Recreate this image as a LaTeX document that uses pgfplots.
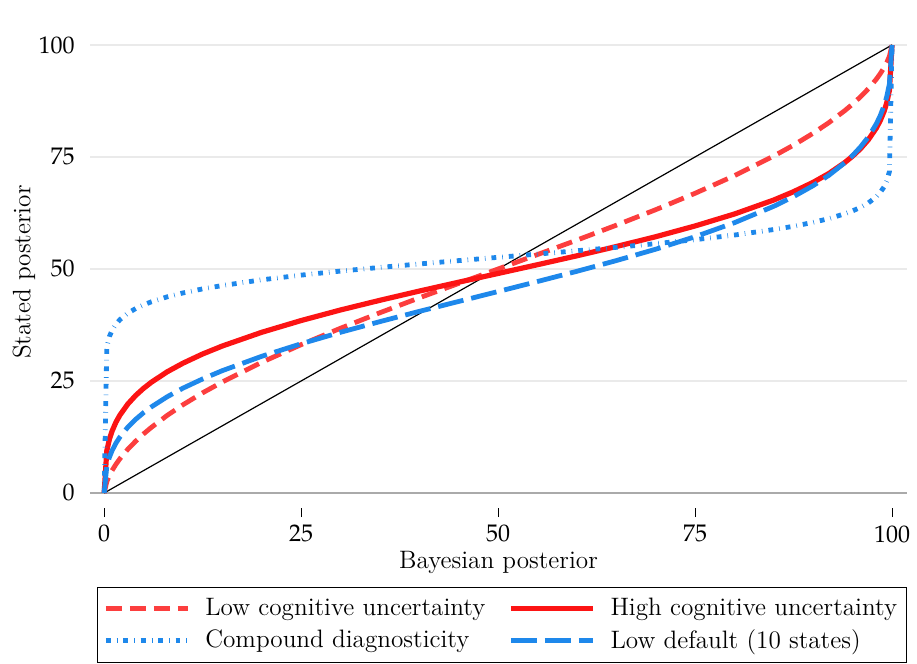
\documentclass[12pt,border=0pt]{standalone}
\usepackage{mathpazo}
\usepackage{pgfplots}
\pgfplotsset{compat=1.18}
\definecolor{redsolid}{RGB}{252,20,20}
\definecolor{reddash}{RGB}{252,62,62}
\definecolor{bluec}{RGB}{30,136,235}
\definecolor{gridc}{RGB}{234,234,234}
\definecolor{zeroc}{RGB}{170,170,170}
\newcommand{\lfont}{\fontsize{12.6}{15}\selectfont}
\begin{document}
\begin{tikzpicture}
\path[use as bounding box] (-45pt,-78pt) rectangle (413.5pt,254pt);
\begin{axis}[
  scale only axis,
  width=408.5pt, height=236pt,
  xmin=-1.8, xmax=101.9, ymin=-3.35, ymax=102,
  axis line style={draw=none},
  xtick={0,25,50,75,100}, ytick={0,25,50,75,100},
  xtick pos=lower, ytick pos=left,
  tick align=outside,
  major tick length=4.5pt,
  ytick style={draw=none},
  xtick style={black, line width=0.5pt},
  ymajorgrids, grid style={draw=gridc, line width=0.8pt},
  extra y ticks={0}, extra y tick labels={},
  extra y tick style={grid style={draw=zeroc, line width=0.8pt}},
  yticklabel style={xshift=1pt},
  xlabel={Bayesian posterior}, ylabel={Stated posterior},
  label style={font=\lfont},
  xlabel style={at={(axis description cs:0.5,-0.116)}, anchor=center},
  ylabel style={at={(axis description cs:-0.0810,0.5)}, anchor=center},
  legend columns=2,
  legend cell align=left,
  legend image code/.code={\draw[#1] (0pt,0pt) -- (41pt,0pt);},
  legend style={at={(axis description cs:0.00857,-0.1674)}, anchor=north west,
    draw=black, line width=0.5pt, inner xsep=3pt, inner ysep=3.4pt, font=\lfont,
    /tikz/every even column/.append style={column sep=11pt},
    row sep=1pt},
]
\addplot[black, line width=0.6pt, forget plot] coordinates {(0,0) (100,100)};
\addplot[reddash, line width=2.4pt, dash pattern=on 8pt off 4pt] coordinates {
(0,0) (0.33,2.52) (0.67,3.92) (1,5.02) (1.5,6.43) (2,7.65) (3,9.76) (4,11.57) (5,13.19) (6,14.66) (8,17.32) (10,19.69) (12.5,22.36) (15,24.78) (20,29.17) (25,33.11) (30,36.77) (35,40.23) (40,43.56) (45,46.78) (50,50) (55,53.22) (60,56.44) (65,59.77) (70,63.23) (75,66.89) (80,70.83) (85,75.22) (87.5,77.64) (90,80.31) (92,82.68) (94,85.34) (95,86.81) (96,88.43) (97,90.24) (98,92.35) (98.5,93.57) (99,94.98) (99.33,96.08) (99.67,97.48) (100,100)};
\addlegendentry{\makebox[144pt][l]{\hspace{5.5pt}Low cognitive uncertainty}}
\addplot[redsolid, line width=2.6pt] coordinates {
(0,0) (0.33,9.39) (0.67,12.03) (1,13.80) (1.5,15.82) (2,17.39) (3,19.85) (4,21.77) (5,23.36) (6,24.73) (8,27.05) (10,28.97) (12.5,31.03) (15,32.81) (20,35.87) (25,38.49) (30,40.85) (35,43.01) (40,45.07) (45,47.05) (50,49.00) (55,50.95) (60,52.94) (65,55.01) (70,57.20) (75,59.60) (80,62.27) (85,65.40) (87.5,67.25) (90,69.35) (92,71.33) (94,73.75) (95,75.19) (96,76.84) (97,78.86) (98,81.43) (98.5,83.09) (99,85.22) (99.33,87.11) (99.67,89.90) (100,100)};
\addlegendentry{\makebox[148.5pt][l]{\hspace{5.5pt}High cognitive uncertainty}}
\addplot[bluec, line width=2.4pt, dash pattern=on 2.4pt off 3pt on 0.3pt off 3pt] coordinates {
(0,0) (0.33,32.65) (0.67,34.95) (1,36.31) (1.5,37.68) (2,38.70) (3,40.13) (4,41.17) (5,41.99) (6,42.68) (8,43.78) (10,44.65) (12.5,45.56) (15,46.30) (20,47.58) (25,48.63) (30,49.53) (35,50.35) (40,51.12) (45,51.87) (50,52.60) (55,53.32) (60,54.07) (65,54.83) (70,55.65) (75,56.54) (80,57.57) (85,58.81) (87.5,59.53) (90,60.42) (92,61.25) (94,62.32) (95,62.97) (96,63.76) (97,64.75) (98,66.11) (98.5,67.06) (99,68.35) (99.33,69.61) (99.67,71.75) (100,100)};
\addlegendentry{\makebox[144pt][l]{\hspace{5.5pt}Compound diagnosticity}}
\addplot[bluec, line width=2.4pt, dash pattern=on 13pt off 4pt] coordinates {
(0,0) (0.33,5.95) (0.67,8.00) (1,9.44) (1.5,11.14) (2,12.50) (3,14.69) (4,16.44) (5,17.93) (6,19.23) (8,21.48) (10,23.40) (12.5,25.46) (15,27.31) (20,30.51) (25,33.31) (30,35.87) (35,38.25) (40,40.54) (45,42.75) (50,44.97) (55,47.20) (60,49.48) (65,51.87) (70,54.41) (75,57.20) (80,60.33) (85,64.00) (87.5,66.15) (90,68.61) (92,70.93) (94,73.71) (95,75.34) (96,77.24) (97,79.49) (98,82.37) (98.5,84.20) (99,86.50) (99.33,88.47) (99.67,91.34) (100,100)};
\addlegendentry{\makebox[148.5pt][l]{\hspace{5.5pt}Low default (10 states)}}
\end{axis}
\end{tikzpicture}
\end{document}
